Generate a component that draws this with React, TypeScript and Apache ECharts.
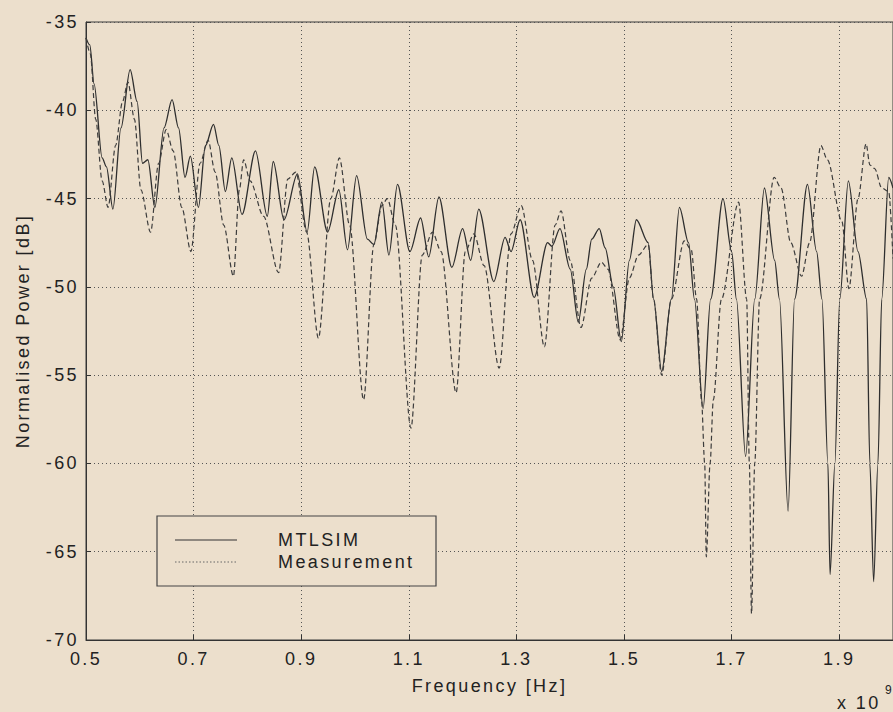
import React, { useEffect, useRef } from "react";
import * as echarts from "echarts";

// Frequency in units of 1e9 Hz, power in dB
const simFreq = [
  0.5, 0.507, 0.515, 0.53, 0.538, 0.55, 0.565, 0.582, 0.595, 0.605, 0.615, 0.628, 0.645, 0.66, 0.672,
  0.684, 0.694, 0.709, 0.722, 0.737, 0.747, 0.759, 0.771, 0.79, 0.815, 0.837, 0.848, 0.868, 0.893,
  0.911, 0.925, 0.949, 0.97, 0.986, 1.003, 1.023, 1.035, 1.05, 1.063, 1.079, 1.102, 1.122, 1.137,
  1.156, 1.18, 1.2, 1.215, 1.23, 1.258, 1.279, 1.29, 1.307, 1.333, 1.358, 1.366, 1.381, 1.4, 1.415,
  1.43, 1.44, 1.454, 1.465, 1.48, 1.495, 1.51, 1.523, 1.545, 1.555, 1.57, 1.588, 1.603, 1.62, 1.631,
  1.647, 1.661, 1.684, 1.7, 1.709, 1.726, 1.743, 1.761, 1.78, 1.789, 1.805, 1.817, 1.841, 1.858,
  1.868, 1.879, 1.883, 1.892, 1.901, 1.917, 1.935, 1.951, 1.957, 1.964, 1.972, 1.979, 1.992, 2.0,
];
const simDb = [
  -35.9, -36.3, -38.5, -42.7, -43.2, -45.6, -41.0, -37.7, -39.5, -43.0, -42.8, -45.5, -41.0, -39.4, -41.0,
  -43.8, -42.6, -45.5, -42.0, -40.8, -42.0, -44.6, -42.7, -45.9, -42.3, -46.0, -42.9, -46.2, -43.6,
  -46.9, -43.2, -46.9, -44.5, -47.9, -43.7, -47.3, -47.6, -45.2, -48.2, -44.2, -48.0, -46.1, -48.3,
  -44.9, -48.9, -46.7, -48.5, -45.6, -49.7, -47.2, -48.0, -46.2, -50.6, -47.5, -47.7, -46.7, -49.0, -52.0,
  -49.0, -47.3, -46.7, -47.8, -50.0, -53.1, -48.5, -46.2, -47.5, -50.7, -54.8, -50.7, -45.5, -47.5, -50.7,
  -56.9, -50.7, -45.0, -48.0, -50.7, -59.6, -50.7, -44.4, -48.5, -50.7, -62.7, -50.7, -44.2, -48.0,
  -50.7, -60.0, -66.3, -60.0, -50.7, -44.0, -48.0, -50.7, -60.0, -66.7, -60.0, -50.7, -43.8, -44.4,
];

const measFreq = [
  0.5, 0.508, 0.518, 0.53, 0.541, 0.555, 0.568, 0.578, 0.59, 0.602, 0.62, 0.635, 0.649, 0.662, 0.678,
  0.695, 0.712, 0.727, 0.74, 0.756, 0.774, 0.785, 0.793, 0.805, 0.83, 0.858, 0.875, 0.89, 0.91, 0.932,
  0.955, 0.971, 0.99, 1.016, 1.035, 1.05, 1.06, 1.075, 1.104, 1.125, 1.144, 1.16, 1.188, 1.205, 1.221,
  1.24, 1.268, 1.29, 1.309, 1.33, 1.352, 1.372, 1.383, 1.4, 1.42, 1.44, 1.458, 1.47, 1.493, 1.51, 1.527,
  1.545, 1.555, 1.57, 1.588, 1.612, 1.625, 1.635, 1.644, 1.65, 1.653, 1.66, 1.666, 1.681, 1.713, 1.728,
  1.733, 1.737, 1.743, 1.752, 1.779, 1.792, 1.81, 1.83, 1.845, 1.866, 1.878, 1.905, 1.918, 1.935, 1.95,
  1.957, 1.966, 1.979, 1.992, 2.0,
];
const measDb = [
  -35.9, -36.8, -40.5, -44.0, -45.5, -42.0, -39.5, -38.4, -40.5, -44.5, -46.9, -43.0, -41.1, -42.3, -45.5,
  -48.0, -43.0, -41.7, -43.5, -46.5, -49.4, -44.5, -42.8, -44.0, -46.0, -49.2, -43.9, -43.5, -46.9, -52.9,
  -45.0, -42.7, -46.5, -56.4, -47.6, -45.4, -45.0, -46.5, -58.0, -48.2, -46.9, -48.0, -56.0, -48.0, -47.0,
  -48.8, -54.6, -47.0, -45.4, -48.5, -53.4, -46.5, -45.7, -48.5, -52.3, -49.5, -48.6, -49.0, -53.0, -49.5, -48.2,
  -47.6, -50.7, -55.0, -50.7, -47.4, -47.9, -50.7, -56.4, -60.0, -65.3, -60.0, -56.4, -50.7, -45.2, -50.7,
  -60.0, -68.5, -60.0, -50.7, -43.8, -44.4, -47.5, -49.4, -47.5, -42.0, -42.8, -46.3, -50.1, -45.0, -41.9,
  -43.1, -43.3, -44.4, -44.6, -48.4,
];

const xTickStep = 0.2;
const yTickStep = 5;
const seriesNames = ["MTLSIM", "Measurement"];

const BG = "#ECDFCC";
const INK = "#222";
const FONT = "'Liberation Sans', Arial, sans-serif";

export default function App() {
  const ref = useRef<HTMLDivElement>(null);
  useEffect(() => {
    if (!ref.current) return;
    const chart = echarts.init(ref.current, undefined, { renderer: "svg" });
    const simData = simFreq.map((f, i) => [f, simDb[i]]);
    const measData = measFreq.map((f, i) => [f, measDb[i]]);
    const gridLine = { color: "#555", width: 1, type: [1, 3] as number[] };
    chart.setOption({
      animation: false,
      backgroundColor: BG,
      grid: {
        left: 86,
        top: 22,
        width: 807,
        height: 618,
        show: true,
        borderColor: "#3a3a3a",
        borderWidth: 1,
        containLabel: false,
      },
      xAxis: {
        type: "value",
        min: 0.5,
        max: 2.0,
        interval: xTickStep,
        name: "Frequency [Hz]",
        nameLocation: "middle",
        nameGap: 37,
        nameTextStyle: { fontSize: 18, color: INK, fontFamily: FONT },
        axisLine: { show: true, lineStyle: { color: "#333", width: 1 } },
        axisTick: { show: true, inside: true, length: 5, lineStyle: { color: "#333" } },
        axisLabel: {
          fontSize: 18,
          color: INK,
          fontFamily: FONT,
          margin: 10,
          showMaxLabel: false,
          formatter: (v: number) => v.toFixed(1),
        },
        splitLine: { show: true, lineStyle: gridLine },
      },
      yAxis: {
        type: "value",
        min: -70,
        max: -35,
        interval: yTickStep,
        name: "Normalised Power [dB]",
        nameLocation: "middle",
        nameGap: 54,
        nameTextStyle: { fontSize: 18, color: INK, fontFamily: FONT },
        axisLine: { show: true, lineStyle: { color: "#333", width: 1 } },
        axisTick: { show: true, inside: true, length: 5, lineStyle: { color: "#333" } },
        axisLabel: { fontSize: 18, color: INK, fontFamily: FONT, margin: 7 },
        splitLine: { show: true, lineStyle: gridLine },
      },
      series: [
        {
          name: seriesNames[0],
          type: "line",
          data: simData,
          showSymbol: false,
          smooth: 0.3,
          smoothMonotone: "x",
          lineStyle: { color: "#2e2e2e", width: 1.3, type: "solid" },
        },
        {
          name: seriesNames[1],
          type: "line",
          data: measData,
          showSymbol: false,
          smooth: 0.3,
          smoothMonotone: "x",
          lineStyle: { color: "#3c3c3c", width: 1.2, type: [5, 3] },
        },
      ],
      graphic: [
        {
          type: "rect",
          shape: { x: 157, y: 516, width: 279, height: 70 },
          style: { fill: BG, stroke: "#444", lineWidth: 1.2 },
          z: 100,
        },
        {
          type: "line",
          shape: { x1: 175, y1: 540, x2: 237, y2: 540 },
          style: { stroke: "#333", lineWidth: 1.2 },
          z: 101,
        },
        {
          type: "line",
          shape: { x1: 175, y1: 562, x2: 237, y2: 562 },
          style: { stroke: "#666", lineWidth: 1, lineDash: [1.5, 2] },
          z: 101,
        },
        {
          type: "text",
          x: 278,
          y: 540,
          style: { text: seriesNames[0], fill: INK, font: `18px ${FONT}`, verticalAlign: "middle" },
          z: 101,
        },
        {
          type: "text",
          x: 278,
          y: 562,
          style: { text: seriesNames[1], fill: INK, font: `18px ${FONT}`, verticalAlign: "middle" },
          z: 101,
        },
        {
          type: "text",
          x: 837,
          y: 703,
          style: { text: "x 10", fill: INK, font: `18px ${FONT}`, verticalAlign: "middle" },
        },
        {
          type: "text",
          x: 885,
          y: 690,
          style: { text: "9", fill: INK, font: `12px ${FONT}`, verticalAlign: "middle" },
        },
      ],
    });
    return () => chart.dispose();
  }, []);
  return (
    <>
      <style>{`#chartbox svg text { letter-spacing: 2.4px; }`}</style>
      <div
        id="chartbox"
        ref={ref}
        style={{ position: "fixed", left: 0, top: 0, width: 893, height: 712, background: BG }}
      />
    </>
  );
}
